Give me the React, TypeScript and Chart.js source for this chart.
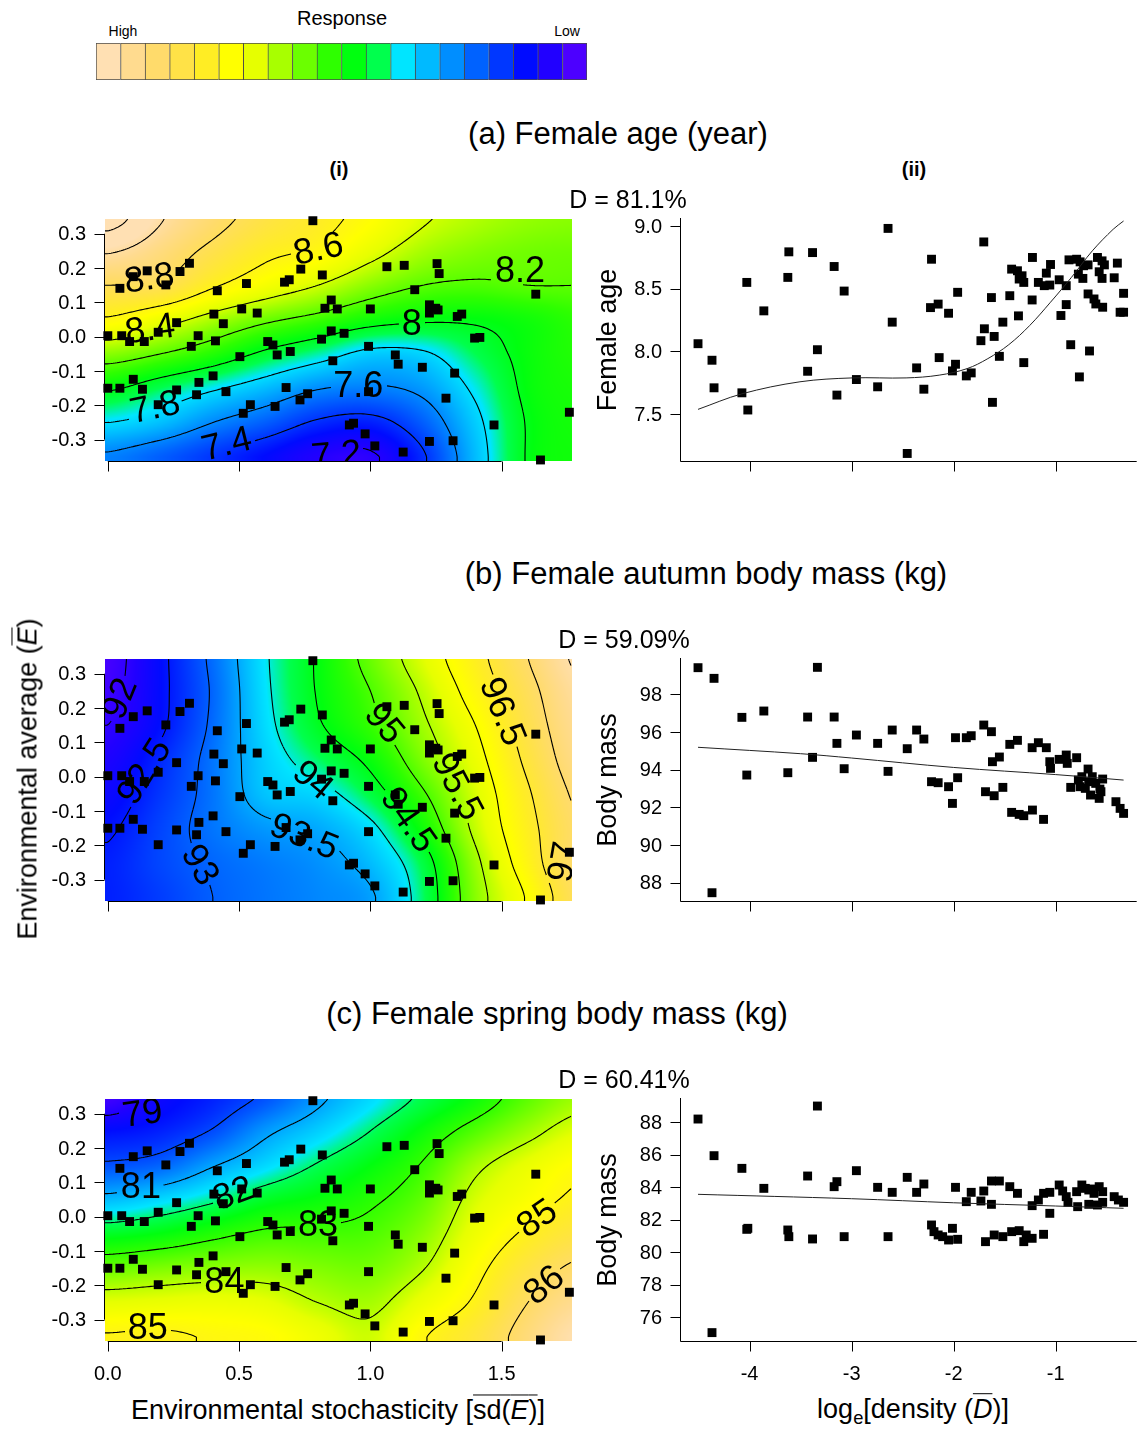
import React, { useEffect, useRef } from "react";
import { Chart, registerables } from "chart.js";

Chart.register(...registerables);

const FONT = '"Liberation Sans", Arial, Helvetica, sans-serif';

// ---------------- colour key (topo colours, low -> high) ----------------
const topoColours = [
  "#4C00FF", "#2100FF", "#000BFF", "#0037FF", "#0062FF", "#008EFF", "#00BAFF",
  "#00E5FF", "#00FF4D", "#00FF0F", "#2EFF00", "#6BFF00", "#A8FF00", "#E6FF00",
  "#FFFF00", "#FFED24", "#FFE247", "#FFDB6B", "#FFDB8F", "#FFE0B3",
];
const keyCells = topoColours.slice().reverse(); // High ... Low

// ---------------- (i) site positions: sd(E) and mean E ----------------
const siteSdE = [
  0.781, 0.046, 0.097, 0.150, 0.221, 0.275, 0.311, 0.417, 0.528, 0.673, 0.691, 0.735, 0.817,
  1.063, 1.129, 1.254, 1.262, 1.169, 1.630, 0.851, 0.827, 0.874, 1.000, 1.225, 1.249, 1.225,
  1.258, 1.331, 1.348, 0.404, 0.510, 0.569, 0.440, 0.262, 0.192, 0.000, 0.053, 0.083, 0.139,
  0.344, 0.318, 0.410, 0.609, 0.629, 0.645, 0.695, 0.851, 0.900, 0.814, 0.993, 1.095, 1.106,
  1.198, 1.321, 0.857, 0.503, 1.397, 1.417, 0.000, 0.046, 0.097, 0.132, 0.262, 0.347, 0.338,
  0.401, 0.450, 0.192, 0.516, 0.543, 0.637, 0.679, 0.732, 0.761, 0.993, 1.288, 0.920, 0.936,
  0.980, 1.017, 1.125, 1.225, 1.315, 1.471, 1.648, 1.758,
];
const siteMeanE = [
  0.338, 0.141, 0.175, 0.192, 0.151, 0.190, 0.214, 0.134, 0.155, 0.159, 0.166, 0.197, 0.180,
  0.204, 0.208, 0.213, 0.184, 0.137, 0.124, 0.107, 0.083, 0.081, 0.081, 0.093, 0.083, 0.069,
  0.078, 0.059, 0.066, 0.066, 0.081, 0.069, 0.038, 0.041, 0.013, 0.003, 0.003, -0.014, -0.014,
  0.003, -0.028, -0.012, -0.014, -0.024, -0.053, -0.043, 0.017, 0.010, -0.007, -0.028, -0.053, -0.080,
  -0.089, -0.106, -0.070, -0.058, -0.004, -0.002, -0.150, -0.150, -0.124, -0.153, -0.155, -0.133, -0.169,
  -0.114, -0.160, -0.198, -0.223, -0.198, -0.203, -0.148, -0.184, -0.166, -0.160, -0.179, -0.257, -0.252,
  -0.283, -0.318, -0.336, -0.305, -0.303, -0.257, -0.359, -0.220,
];

// ---------------- response surfaces (rows: mean E from 0.35 down to -0.35) ----------------
const gridSdE = [0, 0.2, 0.4, 0.6, 0.8, 1.0, 1.2, 1.4, 1.6, 1.8];
const gridMeanE = [0.35, 0.25, 0.15, 0.05, -0.05, -0.15, -0.25, -0.35];

const ageSurface = [
  [9.3, 9.02, 8.86, 8.74, 8.65, 8.55, 8.42, 8.35, 8.3, 8.28],
  [9.02, 8.9, 8.76, 8.64, 8.58, 8.45, 8.33, 8.27, 8.24, 8.23],
  [8.8, 8.78, 8.62, 8.5, 8.4, 8.28, 8.2, 8.18, 8.2, 8.2],
  [8.58, 8.47, 8.34, 8.23, 8.15, 8.06, 8.02, 8.02, 8.06, 8.12],
  [8.28, 8.2, 8.1, 7.97, 7.87, 7.76, 7.78, 7.92, 8.04, 8.1],
  [8.02, 7.92, 7.82, 7.72, 7.61, 7.58, 7.64, 7.83, 8.03, 8.08],
  [7.8, 7.73, 7.6, 7.5, 7.38, 7.35, 7.5, 7.76, 8.01, 8.07],
  [7.58, 7.5, 7.4, 7.3, 7.2, 7.18, 7.38, 7.72, 8.01, 8.06],
];
const autumnSurface = [
  [91.85, 92.4, 93.1, 93.95, 94.55, 95.15, 95.75, 96.35, 97.0, 97.6],
  [91.9, 92.4, 93.05, 93.92, 94.53, 95.0, 95.57, 96.2, 96.85, 97.45],
  [92.0, 92.43, 93.08, 93.87, 94.45, 94.88, 95.43, 96.0, 96.73, 97.35],
  [92.15, 92.6, 93.15, 93.78, 94.2, 94.6, 95.25, 95.85, 96.6, 97.25],
  [92.3, 92.7, 93.15, 93.7, 93.85, 94.3, 94.95, 95.7, 96.45, 97.1],
  [92.45, 92.8, 93.15, 93.4, 93.52, 93.9, 94.65, 95.6, 96.35, 97.0],
  [92.55, 92.82, 93.05, 93.2, 93.35, 93.65, 94.3, 95.4, 96.25, 97.05],
  [92.55, 92.75, 93.0, 93.15, 93.28, 93.45, 94.2, 95.3, 96.05, 96.9],
];
const springSurface = [
  [78.6, 79.2, 79.6, 80.1, 80.85, 81.5, 82.1, 82.65, 83.3, 83.8],
  [79.4, 79.6, 80.05, 80.85, 81.4, 82.0, 82.63, 83.23, 83.8, 84.3],
  [80.1, 80.3, 80.95, 81.5, 82.05, 82.53, 83.05, 83.85, 84.4, 84.85],
  [81.2, 81.5, 81.9, 82.36, 82.6, 82.9, 83.35, 84.2, 84.7, 85.15],
  [82.37, 82.55, 82.85, 83.1, 83.12, 83.2, 83.65, 84.48, 85.12, 85.6],
  [83.4, 83.55, 83.66, 83.71, 83.57, 83.5, 83.97, 84.8, 85.6, 86.15],
  [84.33, 84.4, 84.46, 84.36, 84.0, 83.85, 84.45, 85.1, 86.0, 86.6],
  [85.05, 85.1, 84.95, 84.85, 84.5, 84.15, 84.95, 85.5, 86.3, 87.0],
];

const ageZlim = [7.1, 9.05];
const autumnZlim = [91.8, 97.6];
const springZlim = [78.5, 87.0];

const ageLevels = [7.2, 7.4, 7.6, 7.8, 8.0, 8.2, 8.4, 8.6, 8.8, 9.0, 9.2];
const autumnLevels = [92, 92.5, 93, 93.5, 94, 94.5, 95, 95.5, 96, 96.5, 97, 97.5];
const springLevels = [79, 80, 81, 82, 83, 84, 85, 86, 87];

const ageLabels = [
  { x: 0.158, y: 0.17, text: "8.8", rot: -8 },
  { x: 0.802, y: 0.255, text: "8.6", rot: -12 },
  { x: 0.161, y: 0.022, text: "8.4", rot: -8 },
  { x: 1.57, y: 0.192, text: "8.2", rot: 0 },
  { x: 1.158, y: 0.037, text: "8", rot: 0 },
  { x: 0.18, y: -0.206, text: "7.8", rot: -12 },
  { x: 0.954, y: -0.143, text: "7.6", rot: 0 },
  { x: 0.453, y: -0.313, text: "7.4", rot: -14 },
  { x: 0.87, y: -0.345, text: "7.2", rot: -5 },
];
const autumnLabels = [
  { x: 0.046, y: 0.228, text: "92", rot: -68 },
  { x: 0.139, y: 0.015, text: "92.5", rot: -58 },
  { x: 0.351, y: -0.257, text: "93", rot: 60 },
  { x: 0.748, y: -0.175, text: "93.5", rot: 22 },
  { x: 0.781, y: -0.01, text: "94", rot: 40 },
  { x: 1.145, y: -0.126, text: "94.5", rot: 55 },
  { x: 1.053, y: 0.155, text: "95", rot: 50 },
  { x: 1.331, y: -0.029, text: "95.5", rot: 62 },
  { x: 1.503, y: 0.19, text: "96.5", rot: 68 },
  { x: 1.735, y: -0.248, text: "97", rot: -80 },
];
const springLabels = [
  { x: 0.132, y: 0.301, text: "79", rot: -8 },
  { x: 0.126, y: 0.087, text: "81", rot: 0 },
  { x: 0.477, y: 0.068, text: "82", rot: -20 },
  { x: 0.801, y: -0.024, text: "83", rot: 0 },
  { x: 0.444, y: -0.189, text: "84", rot: 0 },
  { x: 0.152, y: -0.325, text: "85", rot: 0 },
  { x: 1.635, y: -0.005, text: "85", rot: -35 },
  { x: 1.662, y: -0.199, text: "86", rot: -40 },
];

// ---------------- (ii) log density vs response ----------------
const densityAge = [
  -4.505, -4.368, -4.348, -4.075, -4.027, -4.017, -3.860, -3.625, -3.615, -3.431, -3.383, -3.335,
  -3.171, -3.144, -3.073, -2.953, -2.745, -2.643, -2.602, -2.455, -2.363, -2.292, -2.217, -2.227,
  -2.152, -2.142, -2.050, -2.012, -1.982, -1.961, -1.876, -1.828, -1.733, -1.705, -1.699, -1.630,
  -1.603, -1.620, -1.552, -1.518, -1.450, -1.432, -1.375, -1.330, -1.313, -1.358, -1.365, -1.313,
  -1.228, -1.231, -1.170, -1.112, -1.058, -1.092, -1.051, -0.966, -0.949, -0.897, -0.897, -0.853,
  -0.870, -0.795, -0.761, -0.778, -0.734, -0.727, -0.683, -0.768, -0.683, -0.669, -0.625, -0.607,
  -0.591, -0.546, -0.523, -0.574, -0.546, -0.540, -0.427, -0.396, -0.369, -0.335, -0.335,
];
const femaleAge = [
  8.061, 7.929, 7.709, 7.669, 8.550, 7.532, 8.323, 8.590, 8.794, 7.841, 8.788, 8.013,
  8.677, 7.651, 8.481, 7.775, 7.717, 8.981, 8.233, 7.185, 7.868, 7.698, 8.735, 8.349,
  8.377, 7.950, 8.304, 7.844, 7.897, 8.471, 7.804, 7.828, 8.085, 8.873, 8.180, 8.429,
  8.119, 7.593, 7.960, 8.233, 8.444, 8.656, 8.643, 8.603, 8.550, 8.577, 8.283, 7.910,
  8.749, 8.410, 8.550, 8.524, 8.529, 8.624, 8.693, 8.571, 8.286, 8.524, 8.373, 8.053,
  8.730, 8.735, 8.714, 8.616, 8.582, 8.683, 8.690, 7.796, 8.458, 8.003, 8.418, 8.378,
  8.749, 8.722, 8.690, 8.635, 8.582, 8.352, 8.587, 8.704, 8.312, 8.312, 8.463,
];
const ageFitDensity = [-4.505, -4.075, -3.506, -2.994, -2.466, -2.142, -1.869, -1.665, -1.46, -1.255, -1.051, -0.846, -0.641, -0.437, -0.335];
const ageFitValue = [7.537, 7.661, 7.757, 7.788, 7.788, 7.81, 7.862, 7.942, 8.053, 8.206, 8.392, 8.59, 8.802, 8.974, 9.04];

const densityAutumn = [
  -4.505, -4.348, -4.368, -4.075, -4.027, -3.860, -3.625, -3.431, -3.383, -3.335, -3.171, -3.144,
  -3.073, -2.953, -2.745, -2.643, -2.602, -2.455, -2.363, -2.292, -2.217, -2.152, -2.050, -2.012,
  -1.982, -1.961, -1.876, -1.828, -1.705, -1.630, -1.688, -1.603, -1.620, -1.552, -1.518, -1.450,
  -1.375, -1.432, -1.358, -1.313, -1.228, -1.231, -1.170, -1.092, -1.119, -1.058, -1.051, -0.966,
  -0.897, -0.887, -0.795, -0.853, -0.683, -0.778, -0.744, -0.761, -0.710, -0.676, -0.659, -0.642,
  -0.608, -0.567, -0.574, -0.540, -0.557, -0.410, -0.335, -0.369,
];
const autumnMass = [
  99.416, 98.85, 87.469, 96.779, 93.717, 97.115, 93.841, 96.796, 94.655, 99.434, 96.796, 95.398,
  94.053, 95.841, 95.398, 93.912, 96.106, 95.115, 96.106, 95.628, 93.363, 93.31, 93.097, 92.212,
  95.699, 93.575, 95.699, 95.805, 96.372, 96.018, 92.832, 92.619, 94.425, 94.673, 93.062, 95.345,
  95.558, 91.735, 91.628, 91.558, 91.858, 95.168, 95.434, 95.168, 91.363, 94.425, 94.071, 94.549,
  94.779, 94.336, 94.637, 93.062, 94.035, 93.451, 93.628, 93.097, 93.009, 93.363, 92.655, 93.628,
  93.274, 92.973, 92.478, 93.504, 92.832, 92.301, 91.681, 91.947,
];
const autumnFitDensity = [-4.505, -3.5, -3.0, -2.0, -1.0, -0.335];
const autumnFitValue = [95.19, 94.85, 94.62, 94.12, 93.74, 93.45];

const densitySpring = [
  -4.505, -4.348, -4.368, -4.075, -4.027, -4.017, -3.860, -3.625, -3.615, -3.431, -3.383, -3.335,
  -3.171, -3.144, -3.073, -2.953, -2.745, -2.643, -2.602, -2.455, -2.363, -2.292, -2.217, -2.193,
  -2.152, -2.108, -2.050, -2.012, -1.982, -1.961, -1.876, -1.828, -1.705, -1.733, -1.688, -1.630,
  -1.552, -1.630, -1.603, -1.518, -1.450, -1.375, -1.432, -1.358, -1.313, -1.289, -1.231, -1.231,
  -1.170, -1.119, -1.058, -1.119, -1.058, -0.966, -0.932, -0.897, -0.880, -0.785, -0.795, -0.744,
  -0.710, -0.676, -0.642, -0.625, -0.574, -0.540, -0.676, -0.591, -0.540, -0.427, -0.386, -0.335,
];
const springMass = [
  88.205, 85.949, 75.056, 85.169, 81.415, 81.477, 83.938, 81.374, 80.964, 84.697, 80.821, 89.005,
  84.041, 84.349, 80.964, 85.026, 84.0, 80.964, 83.692, 84.615, 83.692, 84.205, 81.682, 81.272,
  81.067, 80.964, 80.759, 81.477, 84.0, 80.8, 83.118, 83.692, 83.774, 83.159, 80.656, 84.39,
  84.39, 82.954, 81.067, 80.964, 84.041, 83.631, 81.272, 81.333, 80.656, 81.067, 80.862, 82.872,
  83.221, 83.631, 83.692, 81.108, 82.4, 84.144, 83.774, 83.426, 83.077, 82.81, 83.733, 84.144,
  83.938, 83.836, 83.897, 83.631, 84.041, 83.733, 82.954, 82.913, 83.077, 83.426, 83.221, 83.077,
];
const springFitDensity = [-4.505, -3.0, -2.0, -1.0, -0.335];
const springFitValue = [83.57, 83.3, 83.05, 82.85, 82.71];

// ---------------- axis ticks ----------------
const meanETicks = [-0.3, -0.2, -0.1, 0, 0.1, 0.2, 0.3];
const meanETickLabels = ["-0.3", "-0.2", "-0.1", "0.0", "0.1", "0.2", "0.3"];
const sdETicks = [0, 0.5, 1, 1.5];
const sdETickLabels = ["0.0", "0.5", "1.0", "1.5"];
const densityTicks = [-4, -3, -2, -1];
const densityTickLabels = ["-4", "-3", "-2", "-1"];
const ageTicks = [7.5, 8.0, 8.5, 9.0];
const ageTickLabels = ["7.5", "8.0", "8.5", "9.0"];
const autumnTicks = [88, 90, 92, 94, 96, 98];
const autumnTickLabels = ["88", "90", "92", "94", "96", "98"];
const springTicks = [76, 78, 80, 82, 84, 86, 88];
const springTickLabels = ["76", "78", "80", "82", "84", "86", "88"];

// ---------------- helpers ----------------
const topoRgb = topoColours.map((h) => [
  parseInt(h.slice(1, 3), 16),
  parseInt(h.slice(3, 5), 16),
  parseInt(h.slice(5, 7), 16),
]);

function colourFor(v: number, lo: number, hi: number) {
  let p = ((v - lo) / (hi - lo)) * 19;
  if (p < 0) p = 0;
  if (p > 19) p = 19;
  let k = Math.floor(p);
  if (k > 18) k = 18;
  const t = p - k;
  const a = topoRgb[k], b = topoRgb[k + 1];
  return [a[0] + (b[0] - a[0]) * t, a[1] + (b[1] - a[1]) * t, a[2] + (b[2] - a[2]) * t];
}

function cr(p0: number, p1: number, p2: number, p3: number, t: number) {
  return 0.5 * (2 * p1 + (-p0 + p2) * t + (2 * p0 - 5 * p1 + 4 * p2 - p3) * t * t + (-p0 + 3 * p1 - 3 * p2 + p3) * t * t * t);
}

function sampleSurface(z: number[][], x: number, y: number) {
  const nx = gridSdE.length, ny = gridMeanE.length;
  let gx = (x - gridSdE[0]) / (gridSdE[1] - gridSdE[0]);
  let gy = (y - gridMeanE[0]) / (gridMeanE[1] - gridMeanE[0]);
  gx = Math.max(0, Math.min(nx - 1, gx));
  gy = Math.max(0, Math.min(ny - 1, gy));
  const i = Math.min(nx - 2, Math.floor(gx));
  const j = Math.min(ny - 2, Math.floor(gy));
  const tx = gx - i, ty = gy - j;
  const at = (jj: number, ii: number) => z[Math.max(0, Math.min(ny - 1, jj))][Math.max(0, Math.min(nx - 1, ii))];
  const r: number[] = [];
  for (let m = -1; m <= 2; m++) r.push(cr(at(j + m, i - 1), at(j + m, i), at(j + m, i + 1), at(j + m, i + 2), tx));
  return cr(r[0], r[1], r[2], r[3], ty);
}

const LABEL_FONT = `36px ${FONT}`;
const TICK_FONT = `20px ${FONT}`;

function surfacePlugin(surface: number[][], zlim: number[], levels: number[], labels: any[]) {
  return {
    id: "surface",
    beforeDatasetsDraw(chart: any) {
      const { ctx, chartArea: a, scales } = chart;
      const sx = scales.x, sy = scales.y;
      const L = Math.round(a.left), T = Math.round(a.top);
      const W = Math.round(a.right) - L, H = Math.round(a.bottom) - T;
      const img = ctx.createImageData(W, H);
      for (let j = 0; j < H; j++) {
        const vy = sy.getValueForPixel(T + j + 0.5);
        for (let i = 0; i < W; i++) {
          const vx = sx.getValueForPixel(L + i + 0.5);
          const c = colourFor(sampleSurface(surface, vx, vy), zlim[0], zlim[1]);
          const k = (j * W + i) * 4;
          img.data[k] = c[0];
          img.data[k + 1] = c[1];
          img.data[k + 2] = c[2];
          img.data[k + 3] = 255;
        }
      }
      ctx.putImageData(img, L, T);

      // label zones
      ctx.save();
      ctx.font = LABEL_FONT;
      const zones = labels.map((lb: any) => ({
        cx: sx.getPixelForValue(lb.x),
        cy: sy.getPixelForValue(lb.y),
        r: (lb.rot * Math.PI) / 180,
        hw: ctx.measureText(lb.text).width / 2 + 3,
        hh: 14,
        text: lb.text,
      }));
      const inZone = (mx: number, my: number) => {
        for (const z of zones) {
          const dx = mx - z.cx, dy = my - z.cy;
          const u = dx * Math.cos(z.r) + dy * Math.sin(z.r);
          const v = -dx * Math.sin(z.r) + dy * Math.cos(z.r);
          if (Math.abs(u) < z.hw && Math.abs(v) < z.hh) return true;
        }
        return false;
      };

      // contour lines (marching squares on the sampled surface)
      const s = 2;
      const nx = Math.floor(W / s) + 1, ny = Math.floor(H / s) + 1;
      const px: number[] = [], py: number[] = [];
      for (let i = 0; i < nx; i++) px.push(L + Math.min(i * s, W));
      for (let j = 0; j < ny; j++) py.push(T + Math.min(j * s, H));
      const F = new Float64Array(nx * ny);
      for (let j = 0; j < ny; j++) {
        const vy = sy.getValueForPixel(py[j]);
        for (let i = 0; i < nx; i++) F[j * nx + i] = sampleSurface(surface, sx.getValueForPixel(px[i]), vy);
      }
      ctx.beginPath();
      ctx.rect(a.left, a.top, a.right - a.left, a.bottom - a.top);
      ctx.clip();
      ctx.beginPath();
      const seg = (p: number[], q: number[]) => {
        if (inZone((p[0] + q[0]) / 2, (p[1] + q[1]) / 2)) return;
        ctx.moveTo(p[0], p[1]);
        ctx.lineTo(q[0], q[1]);
      };
      for (const lv of levels) {
        for (let j = 0; j < ny - 1; j++) {
          for (let i = 0; i < nx - 1; i++) {
            const v0 = F[j * nx + i], v1 = F[j * nx + i + 1], v2 = F[(j + 1) * nx + i + 1], v3 = F[(j + 1) * nx + i];
            const b0 = v0 >= lv, b1 = v1 >= lv, b2 = v2 >= lv, b3 = v3 >= lv;
            if (b0 === b1 && b1 === b2 && b2 === b3) continue;
            const x0 = px[i], x1 = px[i + 1], y0 = py[j], y1 = py[j + 1];
            const top = b0 !== b1 ? [x0 + ((lv - v0) / (v1 - v0)) * (x1 - x0), y0] : null;
            const right = b1 !== b2 ? [x1, y0 + ((lv - v1) / (v2 - v1)) * (y1 - y0)] : null;
            const bottom = b3 !== b2 ? [x0 + ((lv - v3) / (v2 - v3)) * (x1 - x0), y1] : null;
            const left = b0 !== b3 ? [x0, y0 + ((lv - v0) / (v3 - v0)) * (y1 - y0)] : null;
            const pts = [top, right, bottom, left].filter(Boolean) as number[][];
            if (pts.length === 2) seg(pts[0], pts[1]);
            else if (pts.length === 4) {
              const c = (v0 + v1 + v2 + v3) / 4 >= lv;
              if (c === b0) {
                seg(top!, right!);
                seg(bottom!, left!);
              } else {
                seg(top!, left!);
                seg(right!, bottom!);
              }
            }
          }
        }
      }
      ctx.strokeStyle = "#000";
      ctx.lineWidth = 1.1;
      ctx.stroke();

      // contour labels
      ctx.fillStyle = "#000";
      ctx.font = LABEL_FONT;
      ctx.textAlign = "center";
      ctx.textBaseline = "middle";
      for (const z of zones) {
        ctx.save();
        ctx.translate(z.cx, z.cy);
        ctx.rotate(z.r);
        ctx.fillText(z.text, 0, 1);
        ctx.restore();
      }
      ctx.restore();
    },
  };
}

function rAxesPlugin(opts: any) {
  return {
    id: "rAxes",
    afterDraw(chart: any) {
      const { ctx, chartArea: a, scales } = chart;
      const sx = scales.x, sy = scales.y;
      ctx.save();
      ctx.strokeStyle = "#000";
      ctx.lineWidth = 1;
      ctx.fillStyle = "#000";
      ctx.font = TICK_FONT;
      const xl = Math.round(a.left) - 0.5;
      const yb = Math.round(a.bottom) + 0.5;
      // y axis
      ctx.beginPath();
      if (opts.box) {
        ctx.moveTo(xl, a.top);
        ctx.lineTo(xl, yb);
      } else {
        ctx.moveTo(xl, sy.getPixelForValue(opts.yTicks[0]));
        ctx.lineTo(xl, sy.getPixelForValue(opts.yTicks[opts.yTicks.length - 1]));
      }
      for (const t of opts.yTicks) {
        const y = Math.round(sy.getPixelForValue(t)) + 0.5;
        ctx.moveTo(xl, y);
        ctx.lineTo(xl - 10, y);
      }
      // x axis
      if (opts.box) {
        ctx.moveTo(xl, yb);
        ctx.lineTo(a.right, yb);
      } else {
        ctx.moveTo(sx.getPixelForValue(opts.xTicks[0]), yb);
        ctx.lineTo(sx.getPixelForValue(opts.xTicks[opts.xTicks.length - 1]), yb);
      }
      for (const t of opts.xTicks) {
        const x = Math.round(sx.getPixelForValue(t)) + 0.5;
        ctx.moveTo(x, yb);
        ctx.lineTo(x, yb + 10);
      }
      ctx.stroke();
      ctx.textAlign = "right";
      ctx.textBaseline = "middle";
      opts.yTicks.forEach((t: number, i: number) => {
        ctx.fillText(opts.yLabels[i], a.left - 19, sy.getPixelForValue(t) + 1);
      });
      if (opts.showX) {
        ctx.textAlign = "center";
        opts.xTicks.forEach((t: number, i: number) => {
          ctx.fillText(opts.xLabels[i], sx.getPixelForValue(t), a.bottom + 33);
        });
      }
      ctx.restore();
    },
  };
}

const baseOptions = {
  animation: false,
  responsive: false,
  maintainAspectRatio: false,
  events: [],
  plugins: { legend: { display: false }, tooltip: { enabled: false }, title: { display: false } },
};

function ColourKey() {
  const ref = useRef<HTMLCanvasElement>(null);
  useEffect(() => {
    const chart = new Chart(ref.current!, {
      type: "bar",
      data: {
        labels: keyCells.map((_, i) => String(i + 1)),
        datasets: [
          {
            data: keyCells.map(() => 1),
            backgroundColor: keyCells,
            borderColor: "#4a4a4a",
            borderWidth: (c: any) => ({ top: 1, bottom: 1, left: 1, right: c.dataIndex === keyCells.length - 1 ? 1 : 0 }),
            borderSkipped: false,
            barPercentage: 1,
            categoryPercentage: 1,
          } as any,
        ],
      },
      options: {
        ...baseOptions,
        layout: { padding: 0 },
        scales: { x: { display: false }, y: { display: false, min: 0, max: 1 } },
      } as any,
    });
    return () => chart.destroy();
  }, []);
  return <canvas ref={ref} width={491} height={37} style={{ position: "absolute", left: 96, top: 43, width: 491, height: 37 }} />;
}

function SurfacePanel({ top, surface, zlim, levels, labels, showX }: any) {
  const ref = useRef<HTMLCanvasElement>(null);
  useEffect(() => {
    const chart = new Chart(ref.current!, {
      type: "scatter",
      data: {
        datasets: [
          {
            data: siteSdE.map((x, i) => ({ x, y: siteMeanE[i] })),
            pointStyle: "rect",
            pointRadius: 6.3,
            pointHoverRadius: 6.3,
            backgroundColor: "#000",
            borderWidth: 0,
            clip: false,
          } as any,
        ],
      },
      options: {
        ...baseOptions,
        layout: { padding: { left: 105, right: 18, top: 20, bottom: 50 } },
        scales: {
          x: { type: "linear", min: -0.0107, max: 1.768, display: false },
          y: { type: "linear", min: -0.362, max: 0.343, display: false },
        },
      } as any,
      plugins: [
        surfacePlugin(surface, zlim, levels, labels),
        rAxesPlugin({ box: false, xTicks: sdETicks, xLabels: sdETickLabels, yTicks: meanETicks, yLabels: meanETickLabels, showX }),
      ],
    });
    return () => chart.destroy();
  }, []);
  return <canvas ref={ref} width={590} height={312} style={{ position: "absolute", left: 0, top: top - 20, width: 590, height: 312 }} />;
}

function ScatterPanel({ top, xs, ys, fitX, fitY, yMin, yMax, yTicks, yLabels, showX }: any) {
  const ref = useRef<HTMLCanvasElement>(null);
  useEffect(() => {
    const chart = new Chart(ref.current!, {
      type: "scatter",
      data: {
        datasets: [
          {
            type: "line",
            data: fitX.map((x: number, i: number) => ({ x, y: fitY[i] })),
            borderColor: "#222",
            borderWidth: 1,
            pointRadius: 0,
            tension: 0.35,
            fill: false,
          } as any,
          {
            data: xs.map((x: number, i: number) => ({ x, y: ys[i] })),
            pointStyle: "rect",
            pointRadius: 6.3,
            pointHoverRadius: 6.3,
            backgroundColor: "#000",
            borderWidth: 0,
            clip: false,
          } as any,
        ],
      },
      options: {
        ...baseOptions,
        layout: { padding: { left: 91, right: 0, top: 20, bottom: 50 } },
        scales: {
          x: { type: "linear", min: -4.6717, max: -0.2065, display: false },
          y: { type: "linear", min: yMin, max: yMax, display: false },
        },
      } as any,
      plugins: [rAxesPlugin({ box: true, xTicks: densityTicks, xLabels: densityTickLabels, yTicks, yLabels, showX })],
    });
    return () => chart.destroy();
  }, []);
  return <canvas ref={ref} width={553} height={313} style={{ position: "absolute", left: 590, top: top - 20, width: 553, height: 313 }} />;
}

function Text({ x, y, size, bold, rotate, children }: any) {
  return (
    <div
      style={{
        position: "absolute",
        left: x,
        top: y,
        transform: `translate(-50%, -50%)${rotate ? ` rotate(${rotate}deg)` : ""}`,
        fontSize: size,
        fontWeight: bold ? "bold" : "normal",
        whiteSpace: "nowrap",
        lineHeight: 1.15,
        fontFamily: FONT,
        color: "#000",
        zIndex: 2,
      }}
    >
      {children}
    </div>
  );
}

const over = { textDecoration: "overline", textDecorationThickness: "1px" } as any;

export default function App() {
  return (
    <div style={{ position: "absolute", left: 0, top: 0, width: 1143, height: 1431, background: "#fff", overflow: "hidden", fontFamily: FONT }}>
      <ColourKey />
      <Text x={342} y={18} size={20}>Response</Text>
      <Text x={123} y={31} size={14}>High</Text>
      <Text x={567} y={31} size={14}>Low</Text>

      <Text x={618} y={134} size={31}>(a) Female age (year)</Text>
      <Text x={339} y={169} size={20} bold>(i)</Text>
      <Text x={914} y={169} size={20} bold>(ii)</Text>
      <Text x={628} y={199} size={25}>D = 81.1%</Text>

      <Text x={706} y={574} size={31}>(b) Female autumn body mass (kg)</Text>
      <Text x={624} y={639} size={25}>D = 59.09%</Text>

      <Text x={557} y={1014} size={31}>(c) Female spring body mass (kg)</Text>
      <Text x={624} y={1079} size={25}>D = 60.41%</Text>

      <SurfacePanel top={219} surface={ageSurface} zlim={ageZlim} levels={ageLevels} labels={ageLabels} showX={false} />
      <SurfacePanel top={659} surface={autumnSurface} zlim={autumnZlim} levels={autumnLevels} labels={autumnLabels} showX={false} />
      <SurfacePanel top={1099} surface={springSurface} zlim={springZlim} levels={springLevels} labels={springLabels} showX={true} />

      <ScatterPanel top={218} xs={densityAge} ys={femaleAge} fitX={ageFitDensity} fitY={ageFitValue}
        yMin={7.125} yMax={9.064} yTicks={ageTicks} yLabels={ageTickLabels} showX={false} />
      <ScatterPanel top={658} xs={densityAutumn} ys={autumnMass} fitX={autumnFitDensity} fitY={autumnFitValue}
        yMin={87.03} yMax={99.93} yTicks={autumnTicks} yLabels={autumnTickLabels} showX={false} />
      <ScatterPanel top={1098} xs={densitySpring} ys={springMass} fitX={springFitDensity} fitY={springFitValue}
        yMin={74.54} yMax={89.5} yTicks={springTicks} yLabels={springTickLabels} showX={true} />

      <Text x={28} y={779} size={27} rotate={-90}>
        Environmental average (<span style={over}><i>E</i></span>)
      </Text>
      <Text x={608} y={340} size={27} rotate={-90}>Female age</Text>
      <Text x={608} y={780} size={27} rotate={-90}>Body mass</Text>
      <Text x={608} y={1220} size={27} rotate={-90}>Body mass</Text>

      <Text x={338} y={1411} size={27}>
        Environmental stochasticity [<span style={over}>sd(<i>E</i>)</span>]
      </Text>
      <Text x={913} y={1411} size={27}>
        log<span style={{ fontSize: "0.68em", verticalAlign: "-0.3em" }}>e</span>[density (<span style={over}><i>D</i></span>)]
      </Text>
    </div>
  );
}
